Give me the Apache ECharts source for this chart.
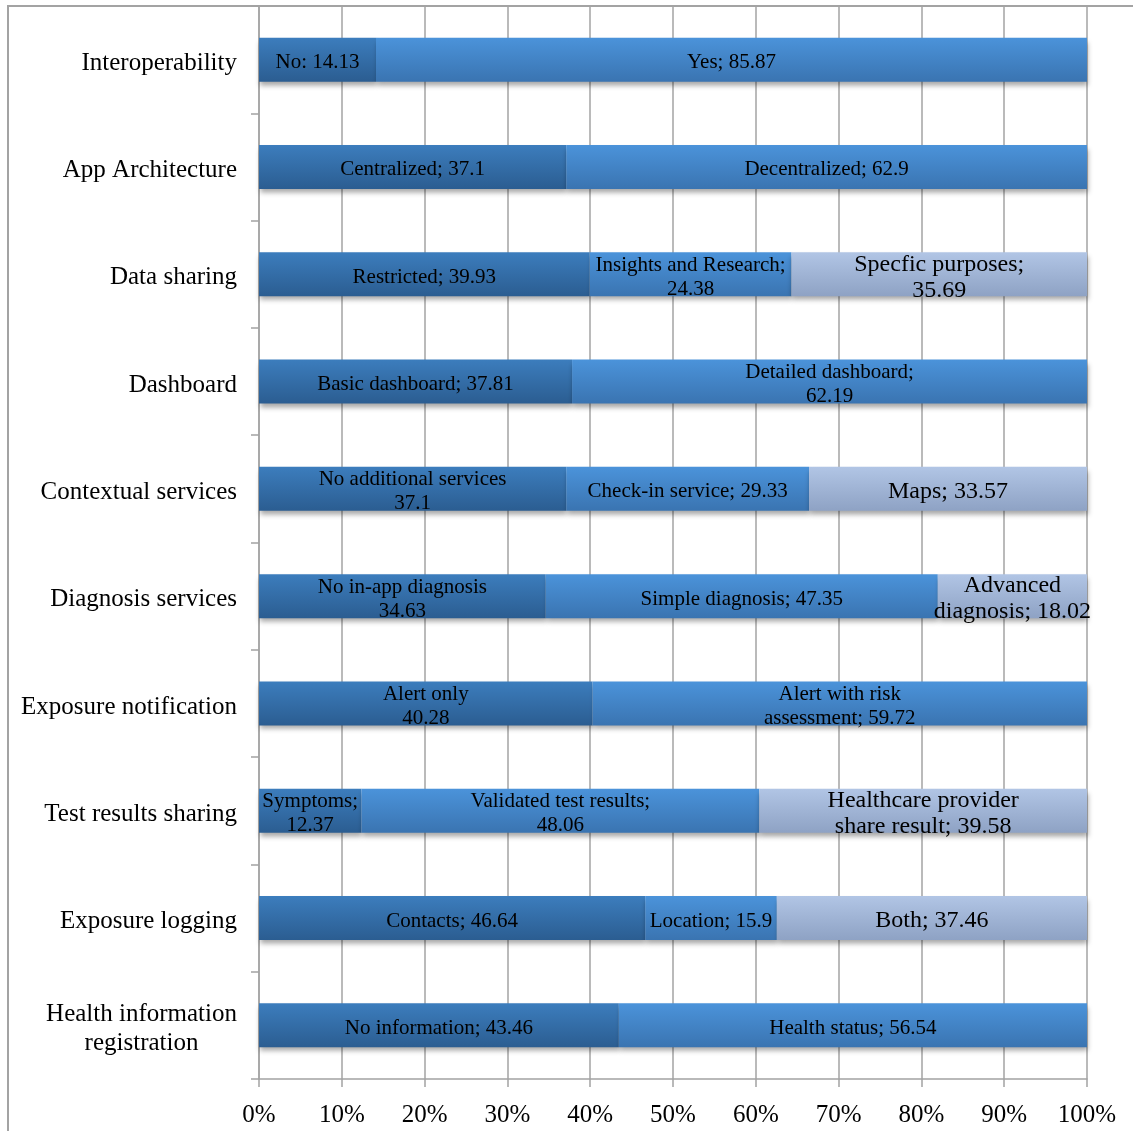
<!DOCTYPE html>
<html>
<head>
<meta charset="utf-8">
<title>App features</title>
<script src="https://cdn.jsdelivr.net/npm/echarts@6/dist/echarts.min.js"></script>
<style>
  html, body { margin: 0; padding: 0; background: #ffffff; }
  #chart { width: 1133px; height: 1131px; }
</style>
</head>
<body>
<div id="chart"></div>
<script>
// Feature categories, listed top to bottom
const categories = [
  'Interoperability',
  'App Architecture',
  'Data sharing',
  'Dashboard',
  'Contextual services',
  'Diagnosis services',
  'Exposure notification',
  'Test results sharing',
  'Exposure logging',
  'Health information\nregistration'
];

// First segment (share in %) and its label text
const seg1Values = [14.13, 37.1, 39.93, 37.81, 37.1, 34.63, 40.28, 12.37, 46.64, 43.46];
const seg1Names = [
  'No: ', 'Centralized; ', 'Restricted; ', 'Basic dashboard; ',
  'No additional services\n', 'No in-app diagnosis\n', 'Alert only\n',
  'Symptoms;\n', 'Contacts; ', 'No information; '
];

// Second segment
const seg2Values = [85.87, 62.9, 24.38, 62.19, 29.33, 47.35, 59.72, 48.06, 15.9, 56.54];
const seg2Names = [
  'Yes; ', 'Decentralized; ', 'Insights and Research;\n', 'Detailed dashboard;\n',
  'Check-in service; ', 'Simple diagnosis; ', 'Alert with risk\nassessment; ',
  'Validated test results;\n', 'Location; ', 'Health status; '
];

// Third segment (only some features have one)
const seg3Values = [null, null, 35.69, null, 33.57, 18.02, null, 39.58, 37.46, null];
const seg3Names = [
  '', '', 'Specfic purposes;\n', '', 'Maps; ', 'Advanced\ndiagnosis; ',
  '', 'Healthcare provider\nshare result; ', 'Both; ', ''
];

// Axis tick values (percent)
const xTicks = [0, 10, 20, 30, 40, 50, 60, 70, 80, 90, 100];

const FONT = '"Liberation Serif", "Times New Roman", serif';
const GRID_GRAY = '#a3a3a3';

function grad(top, bottom) {
  return new echarts.graphic.LinearGradient(0, 0, 0, 1, [
    { offset: 0, color: top },
    { offset: 1, color: bottom }
  ]);
}

function makeSeries(name, values, names, colors, fontSize, lineHeight) {
  return {
    name: name,
    type: 'bar',
    stack: 'total',
    barWidth: 44,
    data: values.map(v => (v == null ? '-' : v)),
    itemStyle: {
      color: grad(colors[0], colors[1]),
      shadowColor: 'rgba(0,0,0,0.35)',
      shadowBlur: 5,
      shadowOffsetY: 4,
      shadowOffsetX: 1
    },
    label: {
      show: true,
      position: 'inside',
      offset: [0, 3],
      color: '#000000',
      fontFamily: FONT,
      fontSize: fontSize,
      lineHeight: lineHeight,
      align: 'center',
      formatter: p => names[p.dataIndex] + String(values[p.dataIndex])
    },
    emphasis: { disabled: true },
    animation: false
  };
}

const chart = echarts.init(document.getElementById('chart'), null, { renderer: 'canvas' });

chart.setOption({
  backgroundColor: '#ffffff',
  animation: false,
  grid: { left: 259, right: 46, top: 6, bottom: 52, containLabel: false },
  xAxis: {
    type: 'value',
    min: xTicks[0],
    max: xTicks[xTicks.length - 1],
    interval: xTicks[1] - xTicks[0],
    axisLine: { show: true, lineStyle: { color: GRID_GRAY, width: 1.5 } },
    axisTick: { show: true, length: 8, lineStyle: { color: GRID_GRAY, width: 1.5 } },
    splitLine: { show: true, lineStyle: { color: GRID_GRAY, width: 1.5 } },
    axisLabel: {
      color: '#000000',
      fontFamily: FONT,
      fontSize: 25,
      margin: 24,
      formatter: '{value}%'
    }
  },
  yAxis: {
    type: 'category',
    inverse: true,
    data: categories,
    axisLine: { show: true, lineStyle: { color: GRID_GRAY, width: 1.5 } },
    axisTick: { show: true, length: 8, lineStyle: { color: GRID_GRAY, width: 1.5 } },
    splitLine: { show: false },
    axisLabel: {
      margin: 22,
      padding: [7, 0, 0, 0],
      formatter: v => v.split('\n').map(s => '{c|' + s + '}').join('\n'),
      rich: {
        c: {
          color: '#000000',
          fontFamily: FONT,
          fontSize: 25,
          lineHeight: 29,
          align: 'center'
        }
      }
    }
  },
  graphic: [{
    type: 'rect',
    z: -10,
    silent: true,
    shape: { x: 8, y: 6, width: 2000, height: 2000 },
    style: { fill: 'none', stroke: GRID_GRAY, lineWidth: 2 }
  }],
  series: [
    makeSeries('seg1', seg1Values, seg1Names, ['#3c7dbd', '#2b5d91'], 21, 24),
    makeSeries('seg2', seg2Values, seg2Names, ['#4b93da', '#3a74b1'], 21, 24),
    makeSeries('seg3', seg3Values, seg3Names, ['#b1c5e5', '#8ea2c4'], 24, 26)
  ]
});
</script>
</body>
</html>
